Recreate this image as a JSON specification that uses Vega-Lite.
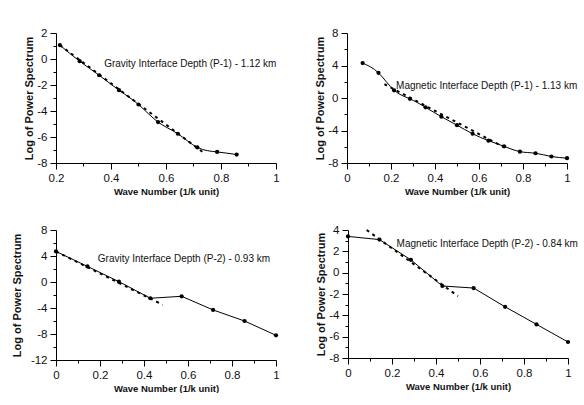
{
  "$schema": "https://vega.github.io/schema/vega-lite/v6.json",
  "padding": {"left": 11, "top": 27, "right": 0, "bottom": 0},
  "background": "white",
  "datasets": {
    "p1": [
      {"k": 0.214, "p": 1.07}, {"k": 0.286, "p": -0.17}, {"k": 0.357, "p": -1.25},
      {"k": 0.429, "p": -2.4}, {"k": 0.5, "p": -3.5}, {"k": 0.571, "p": -4.85},
      {"k": 0.643, "p": -5.75}, {"k": 0.714, "p": -6.8}, {"k": 0.786, "p": -7.15},
      {"k": 0.857, "p": -7.35}
    ],
    "f1": [{"k": 0.214, "p": 1.07}, {"k": 0.733, "p": -7.15}],
    "t1": [{"k": 0.375, "p": -0.4, "label": "Gravity Interface Depth (P-1) - 1.12 km"}],
    "p2": [
      {"k": 0.071, "p": 4.3}, {"k": 0.143, "p": 3.1}, {"k": 0.214, "p": 0.95},
      {"k": 0.286, "p": -0.1}, {"k": 0.357, "p": -1.15}, {"k": 0.429, "p": -2.3},
      {"k": 0.5, "p": -3.35}, {"k": 0.571, "p": -4.4}, {"k": 0.643, "p": -5.25},
      {"k": 0.714, "p": -5.95}, {"k": 0.786, "p": -6.6}, {"k": 0.857, "p": -6.8},
      {"k": 0.929, "p": -7.2}, {"k": 1.0, "p": -7.4}
    ],
    "f2": [{"k": 0.17, "p": 1.7}, {"k": 0.71, "p": -6.0}],
    "t2": [{"k": 0.223, "p": 1.5, "label": "Magnetic Interface Depth (P-1) - 1.13 km"}],
    "p3": [
      {"k": 0.0, "p": 4.7}, {"k": 0.143, "p": 2.4}, {"k": 0.286, "p": 0.05},
      {"k": 0.429, "p": -2.5}, {"k": 0.571, "p": -2.2}, {"k": 0.714, "p": -4.3},
      {"k": 0.857, "p": -6.0}, {"k": 1.0, "p": -8.2}
    ],
    "f3": [{"k": 0.0, "p": 4.7}, {"k": 0.485, "p": -3.5}],
    "t3": [{"k": 0.19, "p": 3.5, "label": "Gravity Interface Depth (P-2) - 0.93 km"}],
    "p4": [
      {"k": 0.0, "p": 3.4}, {"k": 0.143, "p": 3.1}, {"k": 0.286, "p": 1.2},
      {"k": 0.429, "p": -1.25}, {"k": 0.571, "p": -1.44}, {"k": 0.714, "p": -3.2},
      {"k": 0.857, "p": -4.85}, {"k": 1.0, "p": -6.5}
    ],
    "f4": [{"k": 0.085, "p": 4.0}, {"k": 0.5, "p": -2.2}],
    "t4": [{"k": 0.221, "p": 2.72, "label": "Magnetic Interface Depth (P-2) - 0.84 km"}]
  },
  "vconcat": [
    {
      "hconcat": [
        {
          "width": 220, "height": 130,
          "encoding": {
            "x": {"field": "k", "type": "quantitative", "title": "Wave Number (1/k unit)",
              "scale": {"domain": [0.2, 1], "nice": false, "zero": false},
              "axis": {"values": [0.2, 0.3, 0.4, 0.5, 0.6, 0.7, 0.8, 0.9, 1.0],
                "labelExpr": "abs(datum.value*5 - round(datum.value*5)) < 0.001 ? toString(round(datum.value*10)/10) : ''",
                "tickSize": {"condition": {"test": "abs(datum.value*5 - round(datum.value*5)) < 0.001", "value": 6}, "value": 3}}},
            "y": {"field": "p", "type": "quantitative", "title": "Log of Power Spectrum",
              "scale": {"domain": [-8, 2], "nice": false, "zero": false},
              "axis": {"values": [-8, -7, -6, -5, -4, -3, -2, -1, 0, 1, 2],
                "labelExpr": "datum.value % 2 == 0 ? toString(datum.value) : ''",
                "tickSize": {"condition": {"test": "datum.value % 2 == 0", "value": 6}, "value": 3}}}
          },
          "layer": [
            {"data": {"name": "f1"}, "mark": {"type": "line", "color": "black", "strokeWidth": 2, "strokeDash": [3, 4]}},
            {"data": {"name": "p1"}, "mark": {"type": "line", "color": "black", "strokeWidth": 1, "interpolate": "natural"}},
            {"data": {"name": "p1"}, "mark": {"type": "circle", "color": "black", "size": 18, "opacity": 1}},
            {"data": {"name": "t1"}, "mark": {"type": "text", "align": "left", "baseline": "middle", "fontSize": 10, "color": "#111"}, "encoding": {"text": {"field": "label"}}}
          ]
        },
        {
          "width": 220, "height": 130,
          "encoding": {
            "x": {"field": "k", "type": "quantitative", "title": "Wave Number (1/k unit)",
              "scale": {"domain": [0, 1], "nice": false, "zero": false},
              "axis": {"values": [0, 0.1, 0.2, 0.3, 0.4, 0.5, 0.6, 0.7, 0.8, 0.9, 1.0],
                "labelExpr": "abs(datum.value*5 - round(datum.value*5)) < 0.001 ? toString(round(datum.value*10)/10) : ''",
                "tickSize": {"condition": {"test": "abs(datum.value*5 - round(datum.value*5)) < 0.001", "value": 6}, "value": 3}}},
            "y": {"field": "p", "type": "quantitative", "title": "Log of Power Spectrum",
              "scale": {"domain": [-8, 8], "nice": false, "zero": false},
              "axis": {"values": [-8, -6, -4, -2, 0, 2, 4, 6, 8],
                "labelExpr": "datum.value % 4 == 0 ? toString(datum.value) : ''",
                "tickSize": {"condition": {"test": "datum.value % 4 == 0", "value": 6}, "value": 3}}}
          },
          "layer": [
            {"data": {"name": "f2"}, "mark": {"type": "line", "color": "black", "strokeWidth": 2, "strokeDash": [3, 4]}},
            {"data": {"name": "p2"}, "mark": {"type": "line", "color": "black", "strokeWidth": 1, "interpolate": "natural"}},
            {"data": {"name": "p2"}, "mark": {"type": "circle", "color": "black", "size": 18, "opacity": 1}},
            {"data": {"name": "t2"}, "mark": {"type": "text", "align": "left", "baseline": "middle", "fontSize": 10, "color": "#111"}, "encoding": {"text": {"field": "label"}}}
          ]
        }
      ],
      "spacing": 34
    },
    {
      "hconcat": [
        {
          "width": 220, "height": 130,
          "encoding": {
            "x": {"field": "k", "type": "quantitative", "title": "Wave Number (1/k unit)",
              "scale": {"domain": [0, 1], "nice": false, "zero": false},
              "axis": {"values": [0, 0.1, 0.2, 0.3, 0.4, 0.5, 0.6, 0.7, 0.8, 0.9, 1.0],
                "labelExpr": "abs(datum.value*5 - round(datum.value*5)) < 0.001 ? toString(round(datum.value*10)/10) : ''",
                "tickSize": {"condition": {"test": "abs(datum.value*5 - round(datum.value*5)) < 0.001", "value": 6}, "value": 3}}},
            "y": {"field": "p", "type": "quantitative", "title": "Log of Power Spectrum",
              "scale": {"domain": [-12, 8], "nice": false, "zero": false},
              "axis": {"values": [-12, -10, -8, -6, -4, -2, 0, 2, 4, 6, 8], "minExtent": 31.5,
                "labelExpr": "datum.value % 4 == 0 ? toString(datum.value) : ''",
                "tickSize": {"condition": {"test": "datum.value % 4 == 0", "value": 6}, "value": 3}}}
          },
          "layer": [
            {"data": {"name": "f3"}, "mark": {"type": "line", "color": "black", "strokeWidth": 2, "strokeDash": [3, 4]}},
            {"data": {"name": "p3"}, "mark": {"type": "line", "color": "black", "strokeWidth": 1}},
            {"data": {"name": "p3"}, "mark": {"type": "circle", "color": "black", "size": 18, "opacity": 1}},
            {"data": {"name": "t3"}, "mark": {"type": "text", "align": "left", "baseline": "middle", "fontSize": 10, "color": "#111"}, "encoding": {"text": {"field": "label"}}}
          ]
        },
        {
          "width": 220, "height": 128,
          "encoding": {
            "x": {"field": "k", "type": "quantitative", "title": "Wave Number (1/k unit)",
              "scale": {"domain": [0, 1], "nice": false, "zero": false},
              "axis": {"values": [0, 0.1, 0.2, 0.3, 0.4, 0.5, 0.6, 0.7, 0.8, 0.9, 1.0],
                "labelExpr": "abs(datum.value*5 - round(datum.value*5)) < 0.001 ? toString(round(datum.value*10)/10) : ''",
                "tickSize": {"condition": {"test": "abs(datum.value*5 - round(datum.value*5)) < 0.001", "value": 6}, "value": 3}}},
            "y": {"field": "p", "type": "quantitative", "title": "Log of Power Spectrum",
              "scale": {"domain": [-8, 4], "nice": false, "zero": false},
              "axis": {"values": [-8, -7, -6, -5, -4, -3, -2, -1, 0, 1, 2, 3, 4],
                "labelExpr": "datum.value % 2 == 0 ? toString(datum.value) : ''",
                "tickSize": {"condition": {"test": "datum.value % 2 == 0", "value": 6}, "value": 3}}}
          },
          "layer": [
            {"data": {"name": "f4"}, "mark": {"type": "line", "color": "black", "strokeWidth": 2, "strokeDash": [3, 4]}},
            {"data": {"name": "p4"}, "mark": {"type": "line", "color": "black", "strokeWidth": 1}},
            {"data": {"name": "p4"}, "mark": {"type": "circle", "color": "black", "size": 18, "opacity": 1}},
            {"data": {"name": "t4"}, "mark": {"type": "text", "align": "left", "baseline": "middle", "fontSize": 10, "color": "#111"}, "encoding": {"text": {"field": "label"}}}
          ]
        }
      ],
      "spacing": 35
    }
  ],
  "spacing": 28,
  "config": {
    "font": "Liberation Sans",
    "view": {"stroke": null},
    "axis": {
      "grid": false,
      "domainColor": "black",
      "domainWidth": 1,
      "tickColor": "black",
      "tickWidth": 1,
      "labelColor": "#111",
      "labelFontSize": 11.5,
      "labelPadding": 3,
      "labelOverlap": false,
      "labelFlush": false,
      "titleColor": "#111",
      "titleFontWeight": "bold"
    },
    "axisX": {"titleFontSize": 9.5, "titlePadding": 3},
    "axisY": {"titleFontSize": 11, "titlePadding": 2}
  }
}
